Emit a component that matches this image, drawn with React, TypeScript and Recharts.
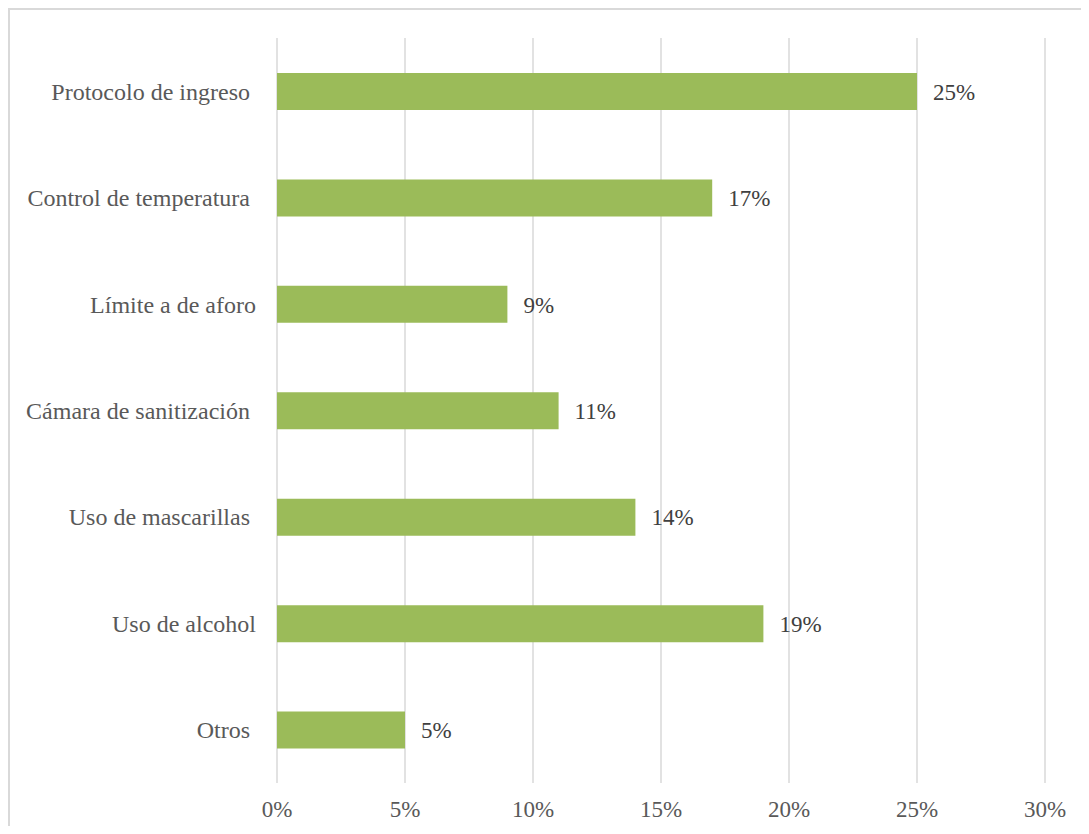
import React from 'react';
import { BarChart, Bar, XAxis, YAxis, CartesianGrid, LabelList } from 'recharts';

// categories (trailing nbsp mimics the spacing of the original labels)
const categories = [
    'Protocolo de ingreso\u00a0',
    'Control de temperatura\u00a0',
    'Límite a de aforo',
    'Cámara de sanitización\u00a0',
    'Uso de mascarillas\u00a0',
    'Uso de alcohol',
    'Otros\u00a0',
];
const values = [25, 17, 9, 11, 14, 19, 5];
const xTicks = [0, 5, 10, 15, 20, 25, 30];

const chartData = categories.map((name, i) => ({ name, value: values[i] }));

const font = 'Liberation Serif';

const App = () => {
    return (
        <div
            style={{
                width: 1081,
                height: 818,
                overflow: 'hidden',
                borderTop: '2px solid #d9d9d9',
                borderLeft: '2px solid #d9d9d9',
                boxSizing: 'border-box',
                background: '#fff',
            }}
        >
            <BarChart
                width={1079}
                height={816}
                data={chartData}
                layout="vertical"
                margin={{ top: 28, right: 44, bottom: 3, left: 0 }}
                barSize={37}
            >
                <CartesianGrid horizontal={false} stroke="#d9d9d9" strokeWidth={1.5} />
                <XAxis
                    type="number"
                    domain={[0, 30]}
                    ticks={xTicks}
                    axisLine={false}
                    tickLine={false}
                    height={40}
                    tickMargin={12}
                    tickFormatter={(v) => `${v}%`}
                    tick={{ fill: '#595959', fontSize: 23, fontFamily: font }}
                />
                <YAxis
                    type="category"
                    dataKey="name"
                    width={267}
                    axisLine={false}
                    tickLine={false}
                    tickSize={0}
                    tickMargin={21}
                    tick={{ fill: '#595959', fontSize: 24, fontFamily: font }}
                />
                <Bar dataKey="value" fill="#9bbb59" isAnimationActive={false}>
                    <LabelList
                        dataKey="value"
                        position="right"
                        offset={16}
                        formatter={(v: number) => `${v}%`}
                        fill="#404040"
                        fontSize={23}
                        fontFamily={font}
                    />
                </Bar>
            </BarChart>
        </div>
    );
};

export default App;
